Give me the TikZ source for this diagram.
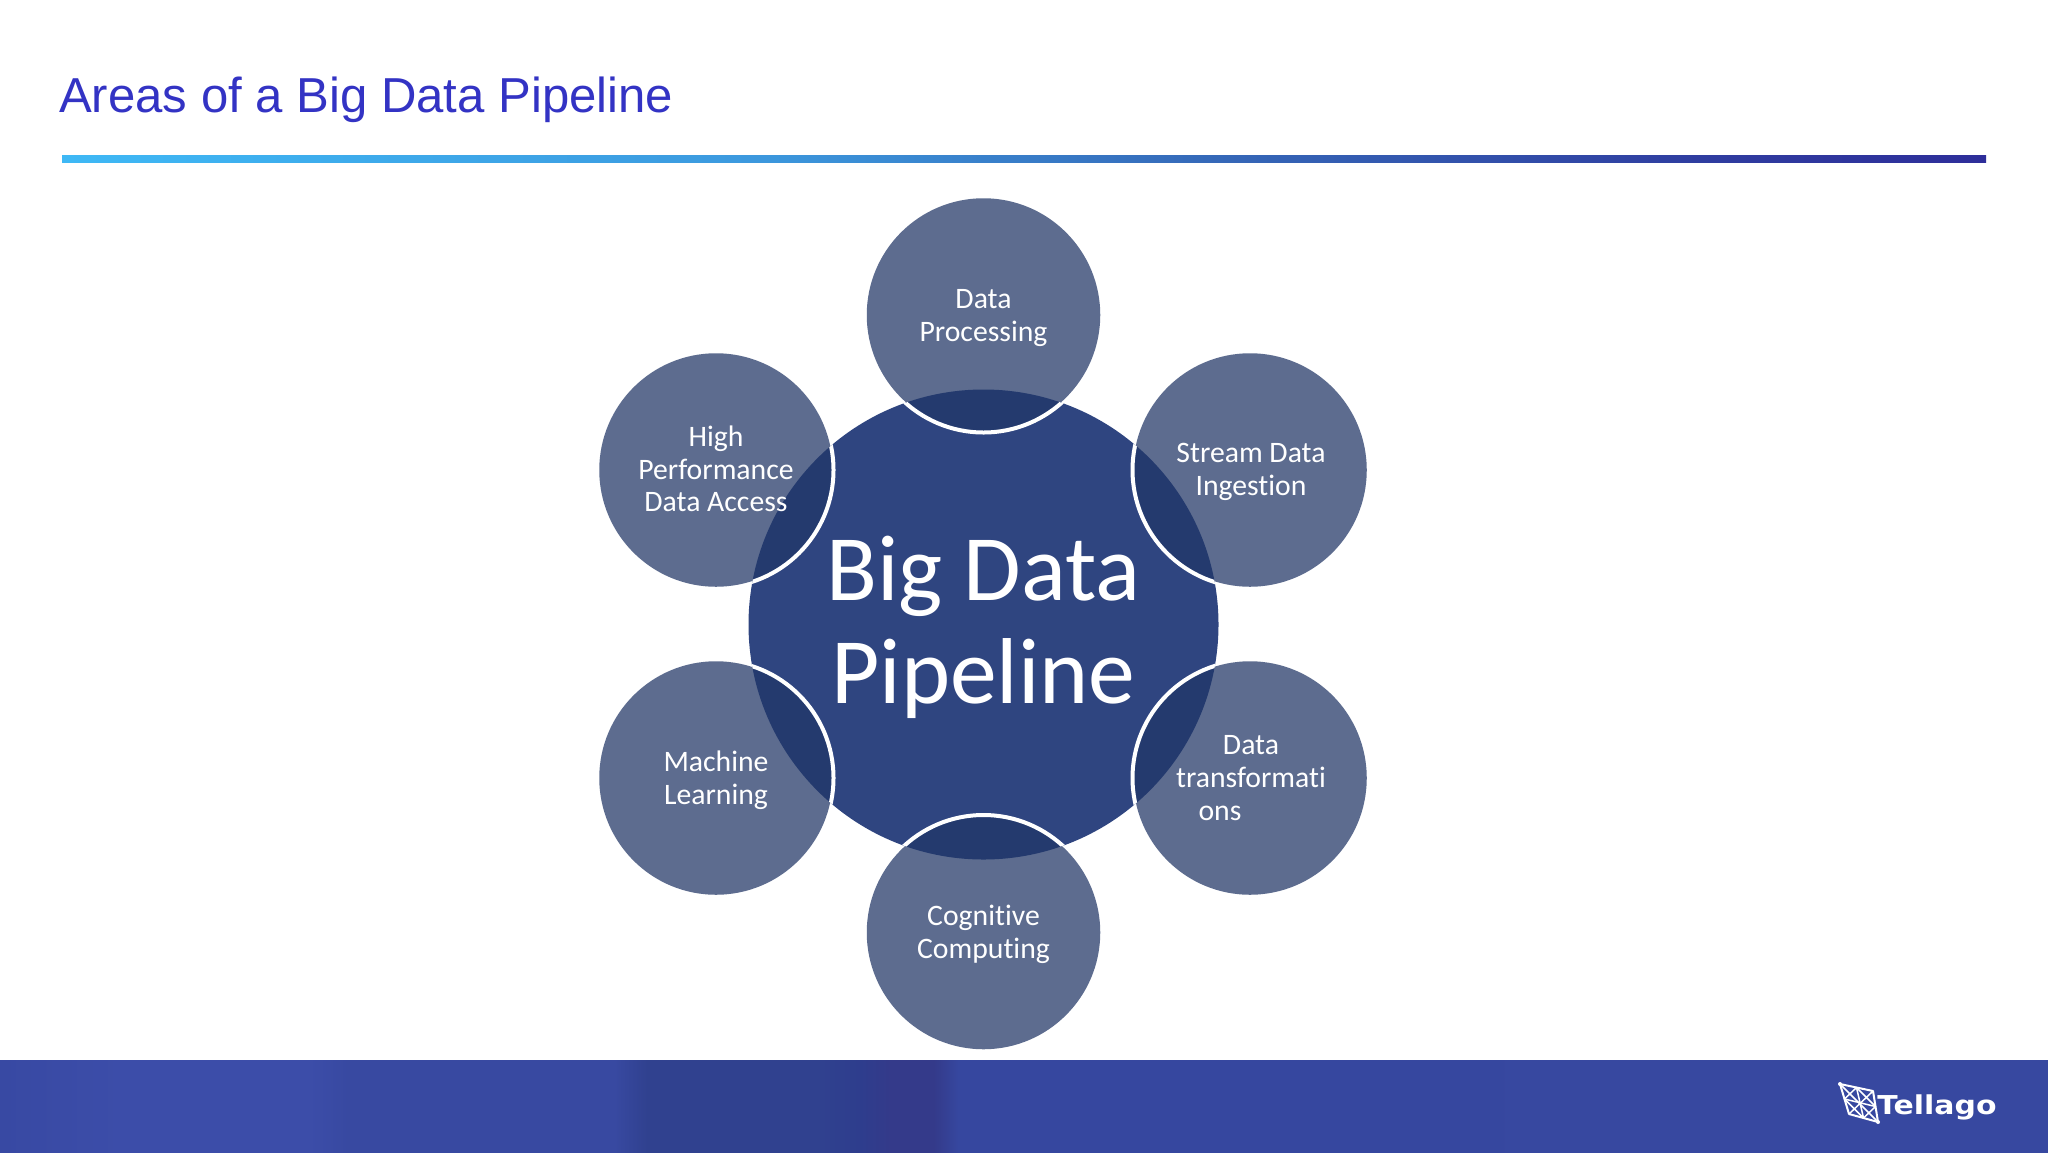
\documentclass[tikz,border=0pt]{standalone}
\usepackage{fontspec}
\setmainfont{Carlito}[Ligatures=NoCommon]
\newfontfamily\titlefont{Liberation Sans}
\newfontfamily\logofont{DejaVu Sans}
\usetikzlibrary{calc}
\definecolor{titleblue}{HTML}{3333C4}
\definecolor{smallfill}{HTML}{5D6C8F}
\definecolor{bigfill}{HTML}{2F4580}
\definecolor{overlapfill}{HTML}{243A6E}
\definecolor{ba}{HTML}{3EB8F5}
\definecolor{bb}{HTML}{3C9ADF}
\definecolor{bc}{HTML}{3568B8}
\definecolor{bd}{HTML}{2F3DA0}
\definecolor{be}{HTML}{2E2E9A}
\definecolor{fa}{HTML}{3849A3}
\definecolor{fb}{HTML}{3C4DA9}
\definecolor{fc}{HTML}{3849A1}
\definecolor{fd}{HTML}{30418F}
\definecolor{fe}{HTML}{2E3D8D}
\definecolor{ff}{HTML}{343A8A}
\definecolor{fg}{HTML}{36479F}
\definecolor{fh}{HTML}{3748A0}
\pgfdeclarehorizontalshading{barshade}{100bp}{color(0bp)=(ba);color(25bp)=(ba);color(42.5bp)=(bb);color(55bp)=(bc);color(67.5bp)=(bd);color(75bp)=(be);color(100bp)=(be)}
\pgfdeclarehorizontalshading{footshade}{100bp}{color(0bp)=(fa);color(25bp)=(fa);color(28bp)=(fb);color(32.5bp)=(fb);color(33.5bp)=(fc);color(40bp)=(fc);color(40.8bp)=(fd);color(45bp)=(fd);color(46bp)=(fe);color(46.75bp)=(ff);color(47.8bp)=(ff);color(48.4bp)=(fg);color(75bp)=(fh);color(100bp)=(fh)}
\tikzset{
  smallcircle/.style={circle,minimum size=233.5pt,inner sep=0pt,fill=smallfill},
  smalllabel/.style={text=white,align=center,font=\fontsize{29.7}{32.7}\selectfont},
  biglabel/.style={text=white,align=center,font=\fontsize{93.6}{103}\selectfont},
  logoline/.style={draw=white,line width=2pt,line join=round}
}
\begin{document}
\begin{tikzpicture}[x=1pt,y=-1pt]
\useasboundingbox (0,0) rectangle (2048,1152);
\fill[white] (0,0) rectangle (2048,1152);
% title and bar
\node[anchor=base west,inner sep=0pt,text=titleblue,font=\titlefont\fontsize{49.1}{55}\selectfont] (title) at (59,112) {Areas of a Big Data Pipeline};
\shade[shading=barshade] (62,155) rectangle (1986,162);
% footer
\shade[shading=footshade] (0,1060) rectangle (2048,1152);
% central circle
\node[circle,minimum size=470pt,inner sep=0pt,fill=bigfill] (hub) at (983.5,624.5) {};
% satellites
\foreach \n/\x/\y in {top/983.5/315,ur/1250/470,lr/1250/778,bot/983.5/932.5,ll/716/778,ul/716/470}{
  \node[smallcircle] (\n) at (\x,\y) {};
  \begin{scope}
    \clip (983.5,624.5) circle[radius=235];
    \fill[overlapfill] (\x,\y) circle[radius=116.75];
    \draw[white,line width=4pt] (\x,\y) circle[radius=117.5];
  \end{scope}
}
% labels
\node[biglabel] (hubtext) at (983.5,627) {Big Data\\Pipeline};
\node[smalllabel] (toptext) at (983.5,318) {Data\\Processing};
\node[smalllabel] (urtext) at (1251,472) {Stream Data\\Ingestion};
\node[smalllabel] (lrtext) at (1251,778) {Data\\transformati\\\mbox{ons\hspace{62pt}}};
\node[smalllabel] (bottext) at (983.5,934.5) {Cognitive\\Computing};
\node[smalllabel] (lltext) at (716,780.5) {Machine\\Learning};
\node[smalllabel] (ultext) at (716,469) {High\\Performance\\Data Access};
% logo
\coordinate (la) at (1840,1084);
\coordinate (lb) at (1873,1091);
\coordinate (lc) at (1878,1122);
\coordinate (ld) at (1849,1114);
\draw[logoline] (la) -- (lb) -- (lc) -- (ld) -- cycle;
\draw[logoline,line width=1.5pt] (la) -- (lc) (lb) -- (ld);
\draw[logoline,line width=1.5pt] ($(la)!0.5!(lb)$) -- ($(ld)!0.5!(lc)$) ($(la)!0.5!(ld)$) -- ($(lb)!0.5!(lc)$);
\draw[logoline,line width=1.5pt] ($(la)!0.5!(lb)$) -- ($(lb)!0.5!(lc)$) -- ($(ld)!0.5!(lc)$) -- ($(la)!0.5!(ld)$) -- cycle;
\fill[white] (la) circle[radius=2] (lc) circle[radius=2];
\node[anchor=base west,inner sep=0pt,text=white,font=\logofont\bfseries\fontsize{26}{28}\selectfont,xscale=1.15] (logotext) at (1877,1114) {Tellago};
\end{tikzpicture}
\end{document}
